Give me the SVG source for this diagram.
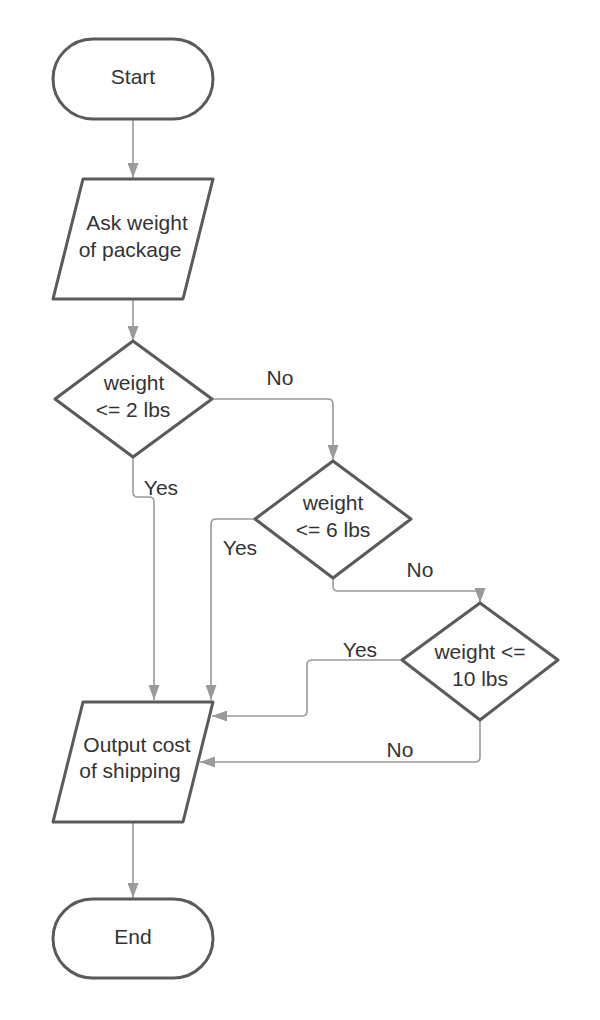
<svg xmlns="http://www.w3.org/2000/svg" width="600" height="1020" viewBox="0 0 600 1020">
<style>
.shape{fill:#ffffff;stroke:#5a5a5a;stroke-width:3;stroke-linejoin:round}
.conn{fill:none;stroke:#9a9a9a;stroke-width:1.6}
.t{font-family:"Liberation Sans",Arial,sans-serif;font-size:21px;fill:#333333;text-anchor:middle}
</style>
<defs>
<marker id="arr" viewBox="0 0 15 11" refX="15" refY="5.5" markerWidth="15" markerHeight="11" markerUnits="userSpaceOnUse" orient="auto">
<path d="M0,0 L15,5.5 L0,11 z" fill="#9a9a9a"/>
</marker>
</defs>
<rect width="600" height="1020" fill="#ffffff"/>
<g id="connectors">
<path class="conn" d="M133 119 V178" marker-end="url(#arr)"/>
<path class="conn" d="M133 299 V341" marker-end="url(#arr)"/>
<path class="conn" d="M212 399 H328 Q333 399 333 404 V460" marker-end="url(#arr)"/>
<path class="conn" d="M133 457 V492 Q133 497 138 497 H149 Q154 497 154 502 V700" marker-end="url(#arr)"/>
<path class="conn" d="M255 519 H216 Q211 519 211 524 V700" marker-end="url(#arr)"/>
<path class="conn" d="M333 578 V586 Q333 591 338 591 H474 Q480 591 480 597 V603" marker-end="url(#arr)"/>
<path class="conn" d="M402 660 H312 Q307 660 307 665 V711 Q307 716 302 716 H212" marker-end="url(#arr)"/>
<path class="conn" d="M480 720 V757 Q480 762 475 762 H200" marker-end="url(#arr)"/>
<path class="conn" d="M133 822 V898" marker-end="url(#arr)"/>
<text class="t" x="280" y="385">No</text>
<text class="t" x="161" y="495">Yes</text>
<text class="t" x="240" y="555">Yes</text>
<text class="t" x="420" y="577">No</text>
<text class="t" x="360" y="657">Yes</text>
<text class="t" x="400" y="757">No</text>
</g>
<g id="start">
<rect class="shape" x="53" y="39" width="160" height="80" rx="40" ry="40"/>
<text class="t" x="133" y="84">Start</text>
</g>
<g id="ask">
<path class="shape" d="M83 179 H213 L183 299 H53 Z"/>
<text class="t" x="137" y="230">Ask weight</text>
<text class="t" x="130" y="257">of package</text>
</g>
<g id="d1">
<path class="shape" d="M133 341 L212 399 L133 457 L55 399 Z"/>
<text class="t" x="134" y="390">weight</text>
<text class="t" x="133" y="417">&lt;= 2 lbs</text>
</g>
<g id="d2">
<path class="shape" d="M333 461 L411 519 L333 578 L255 519 Z"/>
<text class="t" x="333" y="510">weight</text>
<text class="t" x="333" y="537">&lt;= 6 lbs</text>
</g>
<g id="d3">
<path class="shape" d="M480 603 L558 660 L480 720 L402 660 Z"/>
<text class="t" x="480" y="659">weight &lt;=</text>
<text class="t" x="480" y="686">10 lbs</text>
</g>
<g id="output">
<path class="shape" d="M83 702 H213 L183 822 H53 Z"/>
<text class="t" x="137" y="752">Output cost</text>
<text class="t" x="130" y="778">of shipping</text>
</g>
<g id="end">
<rect class="shape" x="53" y="899" width="160" height="79" rx="39.5" ry="39.5"/>
<text class="t" x="133" y="944">End</text>
</g>
</svg>
